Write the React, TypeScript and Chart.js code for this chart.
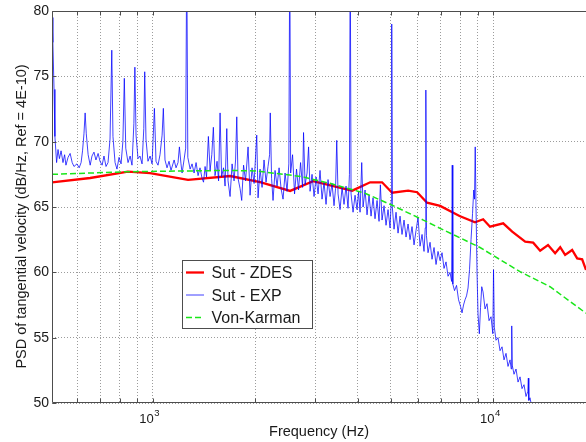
import React, { useEffect, useRef } from 'react';
import { Chart, registerables } from 'chart.js';

Chart.register(...registerables);

const FONT = '"Liberation Sans", Arial, Helvetica, sans-serif';

// Axis ranges and ticks
const xMin = 506;
const xMax = 18690;
const yMin = 50;
const yMax = 80;
const yTicks = [50, 55, 60, 65, 70, 75, 80];
const xGridTicks = [600, 700, 800, 900, 1000, 2000, 3000, 4000, 5000, 6000, 7000, 8000, 9000, 10000];
const xLabelTicks = [1000, 10000];

const xTitle = 'Frequency (Hz)';
const yTitle = 'PSD of tangential velocity (dB/Hz, Ref = 4E-10)';
const seriesNames = ['Sut - ZDES', 'Sut - EXP', 'Von-Karman'];

// Sut - ZDES  [frequency Hz, dB]
const zdes: [number, number][] = [
  [506, 66.89], [655, 67.22], [845, 67.7], [982, 67.6], [1269, 67.07], [1687, 67.37],
  [2066, 66.9], [2530, 66.23], [2955, 66.98], [3850, 66.25], [4345, 66.89], [4710, 66.89],
  [5041, 66.09], [5618, 66.25], [5970, 66.13], [6384, 65.33], [6975, 65.08], [7950, 64.31],
  [8830, 63.83], [9327, 64.06], [9770, 63.49], [10680, 63.75], [11350, 63.11], [12390, 62.34],
  [13080, 62.27], [13710, 61.66], [14460, 62.09], [15170, 61.46], [15700, 61.92], [16230, 61.33],
  [17020, 61.71], [17610, 61.07], [18210, 61.0], [18690, 60.18], [19300, 59.9],
];

// Sut - EXP  [frequency Hz, dB]
const exp: [number, number][] = [
  [506, 79.5], [509, 77.6], [513, 74.0], [516, 70.4], [522, 68.4], [527, 69.4], [532, 68.7], [538, 69.3],
  [545, 68.4], [551, 69.0], [556, 68.2], [564, 68.8], [572, 69.1], [580, 68.4], [587, 68.1], [599, 68.3],
  [608, 68.0], [616, 68.4], [622, 69.3], [628, 70.6], [633, 72.2], [638, 70.6], [646, 69.0], [655, 68.2],
  [663, 68.9], [672, 69.2], [681, 68.6], [691, 69.1], [700, 68.5], [710, 68.2], [719, 68.9], [729, 68.1],
  [739, 68.4], [749, 70.2], [758, 77.0], [764, 70.4], [775, 68.4], [785, 67.9], [796, 68.8], [807, 68.3],
  [817, 70.0], [825, 74.85], [833, 69.5], [846, 68.4], [858, 68.9], [869, 68.2], [880, 71.4], [886, 75.7],
  [893, 70.5], [905, 68.7], [917, 68.9], [930, 68.3], [941, 71.0], [947, 75.35], [955, 70.2], [968, 68.5],
  [982, 68.9], [995, 68.3],
  [1011, 72.55], [1022, 68.5], [1036, 68.2], [1050, 69.0], [1065, 70.5], [1074, 72.55], [1086, 68.6],
  [1101, 68.0], [1116, 68.5], [1131, 67.8], [1155, 68.6], [1170, 68.0], [1186, 68.4], [1197, 69.6],
  [1210, 68.3], [1219, 67.6], [1235, 68.6], [1249, 69.5], [1258, 85], [1267, 68.8], [1287, 67.9],
  [1304, 68.3], [1322, 67.6], [1340, 68.4], [1358, 67.4], [1376, 68.0], [1395, 67.2], [1409, 66.9],
  [1424, 68.1], [1438, 67.3], [1456, 70.4], [1473, 67.8], [1490, 69.0], [1506, 71.1], [1523, 67.4],
  [1544, 68.5], [1560, 67.0], [1576, 72.2], [1592, 67.3], [1613, 68.0], [1630, 66.6], [1649, 71.0],
  [1663, 67.0], [1686, 65.8], [1709, 68.3], [1732, 67.0], [1750, 68.6], [1764, 71.9], [1779, 67.2],
  [1804, 66.4], [1824, 65.5], [1847, 68.2], [1872, 67.0], [1904, 69.6], [1930, 65.9], [1956, 68.0],
  [1983, 66.8],
  [2019, 70.5], [2037, 65.7], [2065, 67.9], [2093, 66.5], [2121, 68.6], [2150, 66.9], [2179, 68.1],
  [2202, 69.0], [2212, 72.2], [2232, 67.2], [2254, 65.5], [2285, 67.8], [2316, 66.6], [2348, 68.0],
  [2380, 66.4], [2412, 65.6], [2445, 67.6], [2478, 66.2], [2508, 68.3], [2524, 85], [2539, 67.6],
  [2572, 69.0], [2607, 66.0], [2642, 67.9], [2678, 66.3], [2715, 68.4], [2752, 66.5], [2770, 70.7],
  [2799, 66.7], [2837, 67.6], [2866, 69.6], [2895, 66.2], [2934, 67.5], [2974, 65.8], [3015, 67.3],
  [3056, 66.0], [3097, 67.8], [3139, 65.6], [3182, 66.9], [3225, 65.2], [3269, 67.1], [3314, 65.8],
  [3359, 66.8], [3404, 65.1], [3439, 66.4], [3467, 70.1], [3498, 66.0], [3545, 64.8], [3594, 66.5],
  [3642, 65.2], [3692, 66.6], [3742, 64.9], [3778, 67.5], [3798, 85], [3819, 66.0], [3871, 64.6],
  [3924, 65.9], [3977, 64.8],
  [4018, 66.2], [4059, 64.6], [4105, 68.4], [4142, 65.0], [4198, 66.3], [4255, 64.4], [4313, 65.9],
  [4372, 64.3], [4431, 65.7], [4491, 64.1], [4553, 65.5], [4615, 63.9], [4656, 66.7], [4709, 64.0],
  [4773, 65.1], [4838, 63.6], [4904, 64.8], [4971, 63.4], [5011, 65.5], [5028, 79.0], [5048, 65.0],
  [5107, 63.3], [5176, 64.6], [5247, 63.0], [5318, 64.3], [5390, 62.9], [5464, 64.0], [5538, 62.7],
  [5614, 63.7], [5690, 62.5], [5767, 63.5], [5846, 62.1], [5925, 63.2], [6006, 64.2], [6088, 62.0],
  [6171, 62.9], [6254, 61.6], [6306, 63.4], [6332, 73.95], [6357, 62.8], [6426, 61.5], [6514, 62.3],
  [6602, 61.0], [6692, 61.9], [6783, 60.6], [6875, 61.6], [6969, 60.9], [7064, 61.5], [7160, 60.3],
  [7257, 60.8], [7356, 59.7], [7456, 60.0], [7537, 59.3], [7568, 68.2], [7598, 59.1], [7686, 58.6],
  [7791, 59.0], [7898, 57.9], [8004, 57.4],
  [8086, 56.9], [8168, 57.5], [8252, 57.9], [8336, 58.2], [8421, 58.8], [8506, 60.2], [8593, 62.5],
  [8681, 64.5], [8752, 66.3], [8798, 65.6], [8840, 69.6], [8888, 65.0], [8949, 60.0], [9009, 56.8],
  [9089, 55.3], [9162, 57.3], [9238, 58.9], [9319, 58.5], [9446, 57.2], [9574, 57.6], [9705, 56.3],
  [9836, 56.6], [9957, 55.3], [10004, 60.2], [10058, 55.8], [10174, 54.8], [10313, 55.0], [10454, 54.0],
  [10596, 54.3], [10740, 53.3], [10886, 53.8], [11034, 52.8], [11185, 53.3], [11275, 52.6], [11314, 55.9],
  [11352, 52.9], [11491, 52.2], [11647, 52.6], [11806, 51.6], [11967, 52.0], [12129, 51.1], [12294, 51.4],
  [12461, 50.5], [12617, 50.9], [12658, 51.9], [12699, 50.2], [12803, 50.4], [12977, 49.6], [13243, 49.0],
];

// Von-Karman  [frequency Hz, dB]
const vonKarman: [number, number][] = [
  [506, 67.5], [845, 67.7], [1690, 67.8], [2000, 67.76], [2285, 67.58], [2750, 67.32], [3000, 67.07],
  [3314, 66.81], [4198, 66.05], [5028, 65.15], [6225, 64.0], [6969, 63.37], [9132, 61.9],
  [11967, 60.05], [14656, 58.9], [18690, 56.87], [19500, 56.5],
];

const seriesColors = ['#ff0000', 'rgba(0,0,255,0.75)', '#19e619'];

const toXY = (arr: [number, number][]) => arr.map(([x, y]) => ({ x, y }));

const framePlugin = {
  id: 'matlabFrame',
  afterDraw(chart: any) {
    const { ctx, chartArea: a, scales } = chart;
    const xs = scales.x;
    const ys = scales.y;
    const L = Math.round(a.left) + 0.5;
    const R = a.right;
    const T = Math.round(a.top) + 0.5;
    const B = Math.round(a.bottom) - 0.5;
    ctx.save();
    ctx.setLineDash([]);
    ctx.strokeStyle = '#4d4d4d';
    ctx.lineWidth = 1;
    ctx.beginPath();
    ctx.moveTo(R, T);
    ctx.lineTo(L, T);
    ctx.lineTo(L, B);
    ctx.lineTo(R, B);
    ctx.stroke();

    ctx.beginPath();
    xGridTicks.forEach((v) => {
      const px = Math.round(xs.getPixelForValue(v)) + 0.5;
      ctx.moveTo(px, B);
      ctx.lineTo(px, B - 4);
      ctx.moveTo(px, T);
      ctx.lineTo(px, T + 4);
    });
    yTicks.forEach((v) => {
      const py = Math.round(ys.getPixelForValue(v)) + 0.5;
      ctx.moveTo(L, py);
      ctx.lineTo(L + 4, py);
    });
    ctx.stroke();

    ctx.fillStyle = '#1a1a1a';
    ctx.font = `14px ${FONT}`;
    ctx.textAlign = 'right';
    ctx.textBaseline = 'middle';
    yTicks.forEach((v) => ctx.fillText(String(v), a.left - 3, ys.getPixelForValue(v)));

    xLabelTicks.forEach((v) => {
      const px = xs.getPixelForValue(v);
      ctx.font = `13px ${FONT}`;
      ctx.textAlign = 'right';
      ctx.textBaseline = 'alphabetic';
      ctx.fillText('10', px + 1, a.bottom + 19.5);
      ctx.font = `9.5px ${FONT}`;
      ctx.textAlign = 'left';
      ctx.fillText(String(Math.round(Math.log10(v))), px + 1.5, a.bottom + 12.5);
    });

    ctx.font = `14.5px ${FONT}`;
    ctx.textAlign = 'center';
    ctx.textBaseline = 'alphabetic';
    ctx.fillText(xTitle, (a.left + a.right) / 2, a.bottom + 33);

    ctx.save();
    ctx.translate(26, 216.5);
    ctx.rotate(-Math.PI / 2);
    ctx.fillText(yTitle, 0, 0);
    ctx.restore();

    // legend box
    const lx = 182.5, ly = 260.5, lw = 130, lh = 68;
    ctx.fillStyle = '#ffffff';
    ctx.fillRect(lx, ly, lw, lh);
    ctx.strokeStyle = '#4d4d4d';
    ctx.lineWidth = 1;
    ctx.strokeRect(lx, ly, lw, lh);
    chart.data.datasets.forEach((ds: any, i: number) => {
      const cy = ly + 12 + i * 22.5;
      ctx.strokeStyle = ds.borderColor;
      ctx.lineWidth = ds.borderWidth;
      ctx.setLineDash(ds.borderDash || []);
      ctx.beginPath();
      ctx.moveTo(lx + 3.5, cy);
      ctx.lineTo(lx + 21.5, cy);
      ctx.stroke();
      ctx.setLineDash([]);
      ctx.fillStyle = '#1a1a1a';
      ctx.font = `16px ${FONT}`;
      ctx.textAlign = 'left';
      ctx.textBaseline = 'alphabetic';
      ctx.fillText(ds.label, lx + 29, cy + 5.8);
    });
    ctx.restore();
  },
};

export default function App() {
  const canvasRef = useRef<HTMLCanvasElement | null>(null);

  useEffect(() => {
    const canvas = canvasRef.current;
    if (!canvas) return;
    const gridOpts = { color: '#9c9c9c', lineWidth: 1, drawTicks: false };
    const chart = new Chart(canvas, {
      type: 'line',
      data: {
        datasets: [
          {
            label: seriesNames[0], data: toXY(zdes), borderColor: seriesColors[0], borderWidth: 2.3,
            pointRadius: 0, order: 3, clip: 0,
          },
          {
            label: seriesNames[1], data: toXY(exp), borderColor: seriesColors[1], borderWidth: 1,
            pointRadius: 0, order: 2, clip: 0,
          },
          {
            label: seriesNames[2], data: toXY(vonKarman), borderColor: seriesColors[2], borderWidth: 1.5,
            borderDash: [6, 3], pointRadius: 0, order: 1, clip: 0,
          },
        ] as any,
      },
      options: {
        responsive: false,
        animation: false,
        events: [],
        layout: { padding: { left: 52, top: 11, right: 0, bottom: 39 } },
        plugins: { legend: { display: false }, tooltip: { enabled: false }, title: { display: false } },
        scales: {
          x: {
            type: 'logarithmic', min: xMin, max: xMax,
            ticks: { display: false },
            grid: gridOpts,
            border: { display: false, dash: [1, 2] },
            afterBuildTicks: (s: any) => { s.ticks = xGridTicks.map((v) => ({ value: v })); },
          },
          y: {
            type: 'linear', min: yMin, max: yMax,
            ticks: { display: false, stepSize: 5 },
            grid: gridOpts,
            border: { display: false, dash: [1, 2] },
            afterBuildTicks: (s: any) => { s.ticks = yTicks.map((v) => ({ value: v })); },
          },
        },
      } as any,
      plugins: [framePlugin],
    });
    return () => chart.destroy();
  }, []);

  return (
    <div style={{ position: 'fixed', left: 0, top: 0, width: 586, height: 442, background: '#fff' }}>
      <canvas ref={canvasRef} width={586} height={442} style={{ display: 'block' }} />
    </div>
  );
}
